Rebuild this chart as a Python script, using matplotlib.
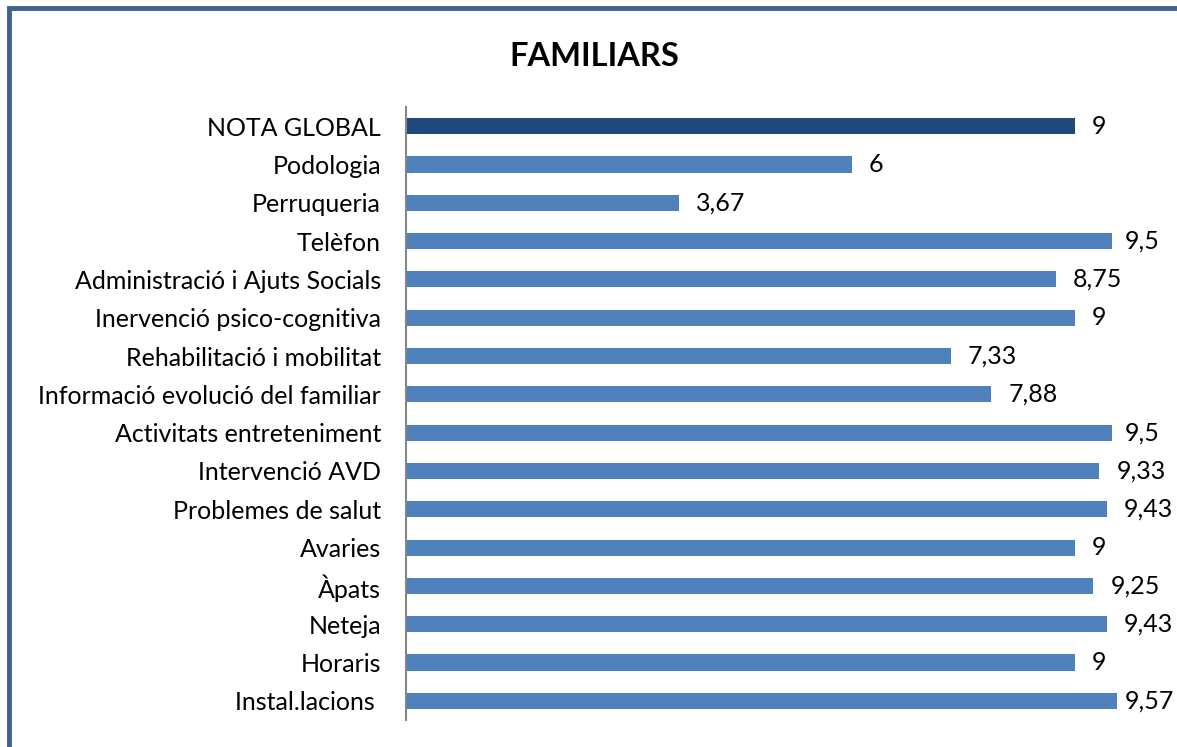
import matplotlib
matplotlib.use('agg')
import matplotlib.pyplot as plt
from matplotlib.patches import Rectangle

categories = ['NOTA GLOBAL', 'Podologia', 'Perruqueria', 'Telèfon',
              'Administració i Ajuts Socials', 'Inervenció psico-cognitiva',
              'Rehabilitació i mobilitat', 'Informació evolució del familiar',
              'Activitats entreteniment', 'Intervenció AVD', 'Problemes de salut',
              'Avaries', 'Àpats', 'Neteja', 'Horaris', 'Instal.lacions ']
values = [9, 6, 3.67, 9.5, 8.75, 9, 7.33, 7.88, 9.5, 9.33, 9.43, 9, 9.25, 9.43, 9, 9.57]
labels = ['9', '6', '3,67', '9,5', '8,75', '9', '7,33', '7,88', '9,5', '9,33',
          '9,43', '9', '9,25', '9,43', '9', '9,57']

plt.rcParams['font.family'] = ['Lato', 'DejaVu Sans']

W, H = 1177, 747
fig = plt.figure(figsize=(W / 100, H / 100), dpi=100)
ax = fig.add_axes([406 / W, 1 - 720 / H, (1149 - 406) / W, (720 - 107) / H])

colors = ['#1f497d'] + ['#4f81bd'] * (len(values) - 1)
y = list(range(len(values)))
ax.barh(y, values, height=0.42, color=colors)
for yi, v, lab in zip(y, values, labels):
    # labels near the right edge are pulled in so they stay inside the frame
    ax.text(min(v + 0.23, 9.68), yi, lab, va='center', ha='left', fontsize=18)

ax.set_ylim(len(values) - 0.5, -0.5)
ax.set_xlim(0, 10)
ax.set_yticks(y)
ax.set_yticklabels(categories, fontsize=18)
ax.tick_params(axis='y', length=0, pad=18)
ax.set_xticks([])
for s in ['top', 'right', 'bottom']:
    ax.spines[s].set_visible(False)
ax.spines['left'].set_color('#868686')
ax.spines['left'].set_linewidth(1.5)

fig.text(594 / W, 1 - 56 / H, 'FAMILIARS', ha='center', va='center',
         fontsize=23.5, fontweight='bold')

fig.patches.append(Rectangle((9 / W, -0.1), 1.2, 1 - 8 / H + 0.1,
                             transform=fig.transFigure, fill=False,
                             edgecolor='#3d6393', linewidth=3.5))

fig.savefig('out.png', dpi=100)
